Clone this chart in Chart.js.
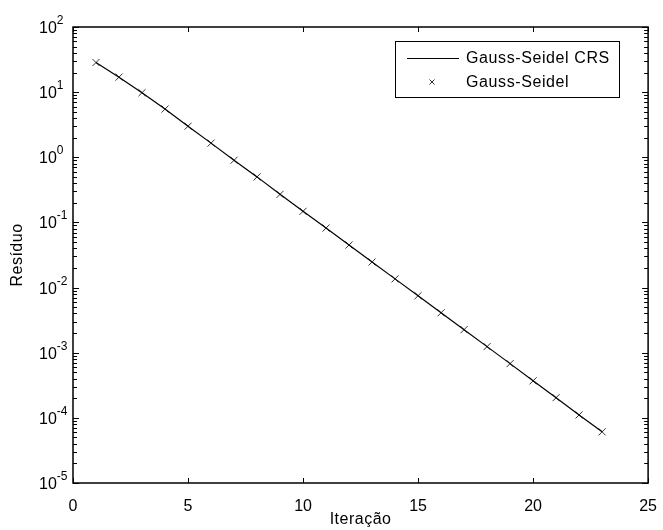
<!DOCTYPE html>
<html>
<head>
<meta charset="utf-8">
<script src="https://cdn.jsdelivr.net/npm/chart.js@4.4.1/dist/chart.umd.min.js"></script>
<style>
  body { margin: 0; background: #fff; }
  canvas { display: block; }
</style>
</head>
<body>
<canvas id="grafico" width="663" height="530"></canvas>
<script>
// Dados
const iteracoes = [1, 2, 3, 4, 5, 6, 7, 8, 9, 10, 11, 12, 13, 14, 15, 16, 17, 18, 19, 20, 21, 22, 23];
const residuoCRS = [28.5, 17, 9.8, 5.5, 3.0, 1.65, 0.90, 0.50, 0.27, 0.148, 0.082, 0.045, 0.0247,
  0.0136, 0.0075, 0.0041, 0.00226, 0.00124, 0.00068, 0.00037, 0.000204, 0.000111, 0.000061];
const residuoGS = [28.5, 17, 9.8, 5.5, 3.0, 1.65, 0.90, 0.50, 0.27, 0.148, 0.082, 0.045, 0.0247,
  0.0136, 0.0075, 0.0041, 0.00226, 0.00124, 0.00068, 0.00037, 0.000204, 0.000111, 0.000061];
const xTicks = [0, 5, 10, 15, 20, 25];
const yExpoentes = [-5, -4, -3, -2, -1, 0, 1, 2];
const nomes = ["Gauss-Seidel CRS", "Gauss-Seidel"];

const fonte = "Liberation Sans, Arial, sans-serif";

function pontos(ys) {
  return iteracoes.map((x, i) => ({ x: x, y: ys[i] }));
}

// desenha cruz em x
function marcaX(ctx, x, y, r) {
  ctx.beginPath();
  ctx.moveTo(x - r, y - r);
  ctx.lineTo(x + r, y + r);
  ctx.moveTo(x - r, y + r);
  ctx.lineTo(x + r, y - r);
  ctx.stroke();
}

const estiloMatlab = {
  id: "estiloMatlab",
  afterDraw(chart) {
    const ctx = chart.ctx;
    const area = chart.chartArea;
    const sx = chart.scales.x;
    const sy = chart.scales.y;
    ctx.save();
    ctx.strokeStyle = "#000";
    ctx.fillStyle = "#000";

    // caixa
    ctx.lineWidth = 1.5;
    ctx.strokeRect(area.left, area.top, area.right - area.left, area.bottom - area.top);

    // ticks x (para dentro, em baixo e em cima)
    ctx.lineWidth = 1;
    xTicks.forEach((v) => {
      const px = Math.round(sx.getPixelForValue(v)) + 0.5;
      ctx.beginPath();
      ctx.moveTo(px, area.bottom);
      ctx.lineTo(px, area.bottom - 5);
      ctx.moveTo(px, area.top);
      ctx.lineTo(px, area.top + 5);
      ctx.stroke();
    });

    // ticks y logarítmicos
    yExpoentes.forEach((k) => {
      for (let m = 1; m <= 9; m++) {
        const v = m * Math.pow(10, k);
        if (v > 100.0001) break;
        const py = Math.round(sy.getPixelForValue(v)) + 0.5;
        const len = m === 1 ? 6 : 4;
        ctx.beginPath();
        ctx.moveTo(area.left, py);
        ctx.lineTo(area.left + len, py);
        ctx.moveTo(area.right, py);
        ctx.lineTo(area.right - len, py);
        ctx.stroke();
      }
    });

    // rótulos y com expoente
    ctx.textAlign = "left";
    ctx.textBaseline = "alphabetic";
    yExpoentes.forEach((k) => {
      const py = sy.getPixelForValue(Math.pow(10, k));
      ctx.font = "16px " + fonte;
      ctx.fillText("10", 39, py + 6);
      const w = ctx.measureText("10").width;
      ctx.font = "12px " + fonte;
      ctx.fillText(String(k), 39 + w, py - 3);
    });

    // títulos dos eixos
    ctx.font = "16px " + fonte;
    ctx.letterSpacing = "0.5px";
    ctx.textAlign = "center";
    ctx.textBaseline = "middle";
    ctx.fillText("Iteração", (area.left + area.right) / 2, 520);
    ctx.save();
    ctx.translate(18, (area.top + area.bottom) / 2);
    ctx.rotate(-Math.PI / 2);
    ctx.fillText("Resíduo", 0, 0);
    ctx.restore();

    // legenda
    ctx.lineWidth = 1;
    ctx.strokeRect(395.5, 41.5, 224, 56);
    ctx.beginPath();
    ctx.moveTo(407, 58.5);
    ctx.lineTo(459, 58.5);
    ctx.stroke();
    ctx.strokeStyle = "#333";
    marcaX(ctx, 432, 82, 2.5);
    ctx.font = "16px " + fonte;
    ctx.letterSpacing = "0.6px";
    ctx.textAlign = "left";
    ctx.textBaseline = "middle";
    ctx.fillText(nomes[0], 466, 59);
    ctx.fillText(nomes[1], 466, 83);
    ctx.restore();
  }
};

new Chart(document.getElementById("grafico"), {
  type: "line",
  data: {
    datasets: [
      {
        label: nomes[0],
        data: pontos(residuoCRS),
        borderColor: "#000",
        borderWidth: 1.2,
        pointRadius: 0,
        tension: 0
      },
      {
        label: nomes[1],
        data: pontos(residuoGS),
        showLine: false,
        pointStyle: "crossRot",
        pointRadius: 5,
        borderColor: "#333",
        pointBorderWidth: 1
      }
    ]
  },
  options: {
    responsive: false,
    animation: false,
    devicePixelRatio: 1,
    layout: { padding: { top: 27, right: 12, left: 0, bottom: 0 } },
    plugins: { legend: { display: false }, tooltip: { enabled: false } },
    scales: {
      x: {
        type: "linear",
        min: 0,
        max: 25,
        grid: { display: false },
        border: { display: false },
        afterBuildTicks: (s) => { s.ticks = xTicks.map((v) => ({ value: v })); },
        afterFit: (s) => { s.height = 47; },
        ticks: {
          color: "#000",
          font: { family: fonte, size: 16 },
          padding: 6,
          maxRotation: 0
        }
      },
      y: {
        type: "logarithmic",
        min: 1e-5,
        max: 100,
        grid: { display: false },
        border: { display: false },
        ticks: { display: false },
        afterFit: (s) => { s.width = 73; }
      }
    }
  },
  plugins: [estiloMatlab]
});
</script>
</body>
</html>
